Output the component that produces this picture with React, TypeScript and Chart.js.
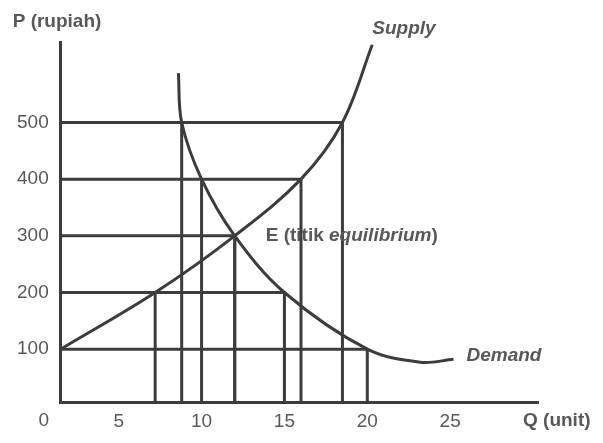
import React, { useEffect, useRef } from "react";
import { Chart, registerables } from "chart.js";

Chart.register(...registerables);

// ---- data ----
const priceLevels = [100, 200, 300, 400, 500];
const qSupplied = [1.5, 7.2, 12, 16, 18.5];
const qDemanded = [20, 15, 12, 10, 8.8];

const supplyQ = [1.5, 7.2, 12, 16, 18.5, 20.3];
const supplyP = [100, 200, 300, 400, 500, 637];

const demandQ = [8.6, 8.8, 10, 12, 15, 20, 23.2, 25.2];
const demandP = [587, 500, 400, 300, 200, 100, 77, 82];

const xTickValues = [5, 10, 15, 20, 25];
const yTickValues = [100, 200, 300, 400, 500];

const equilibriumQ = 12;
const equilibriumP = 300;

const X_MIN = 1.5;
const X_MAX = 30.3;
const Y_MIN = 6.4;
const Y_MAX = 642;

const INK = "#3c3c3c";
const TEXT = "#585858";
const FONT = "'Liberation Sans', Arial, sans-serif";

const pts = (xs: number[], ys: number[]) => xs.map((x, i) => ({ x, y: ys[i] }));

export default function App() {
  const ref = useRef<HTMLCanvasElement | null>(null);

  useEffect(() => {
    if (!ref.current) return;

    const guideSets: any[] = [];
    priceLevels.forEach((p, i) => {
      const right = Math.max(qSupplied[i], qDemanded[i]);
      guideSets.push({
        data: [{ x: X_MIN, y: p }, { x: right, y: p }],
      });
    });
    [...qSupplied, ...qDemanded].forEach((q, i) => {
      const p = priceLevels[i % priceLevels.length];
      if (q <= X_MIN) return;
      guideSets.push({
        data: [{ x: q, y: Y_MIN }, { x: q, y: p }],
      });
    });

    const lineBase = {
      showLine: true,
      pointRadius: 0,
      borderColor: INK,
      backgroundColor: INK,
      borderWidth: 3,
      fill: false,
    };

    const textPlugin = {
      id: "texts",
      afterDraw(chart: any) {
        const { ctx, chartArea, scales } = chart;
        const xs = scales.x;
        const ys = scales.y;
        ctx.save();
        ctx.fillStyle = TEXT;
        ctx.textBaseline = "middle";
        // axis titles
        ctx.font = `bold 19px ${FONT}`;
        ctx.textAlign = "left";
        ctx.fillText("P (rupiah)", chartArea.left - 48, chartArea.top - 20);
        ctx.fillText("Q (unit)", chartArea.right - 15, chartArea.bottom + 19);
        // origin label
        ctx.font = `19px ${FONT}`;
        ctx.textAlign = "center";
        ctx.fillText("0", chartArea.left - 17, chartArea.bottom + 19);
        // curve labels
        ctx.textAlign = "left";
        ctx.font = `italic bold 19px ${FONT}`;
        const sx = xs.getPixelForValue(supplyQ[supplyQ.length - 1]);
        const sy = ys.getPixelForValue(supplyP[supplyP.length - 1]);
        ctx.fillText("Supply", sx, sy - 16);
        const dx = xs.getPixelForValue(demandQ[demandQ.length - 1]);
        const dy = ys.getPixelForValue(demandP[demandP.length - 1]);
        ctx.fillText("Demand", dx + 13, dy - 4);
        // equilibrium label
        const ex = xs.getPixelForValue(equilibriumQ) + 31;
        const ey = ys.getPixelForValue(equilibriumP);
        ctx.font = `bold 19px ${FONT}`;
        const a = "E (titik ";
        ctx.fillText(a, ex, ey);
        let w = ctx.measureText(a).width;
        ctx.font = `italic bold 19px ${FONT}`;
        const b = "equilibrium";
        ctx.fillText(b, ex + w, ey);
        w += ctx.measureText(b).width;
        ctx.font = `bold 19px ${FONT}`;
        ctx.fillText(")", ex + w, ey);
        ctx.restore();
      },
    };

    const chart = new Chart(ref.current, {
      type: "scatter",
      data: {
        datasets: [
          ...guideSets.map((g) => ({ ...lineBase, ...g, tension: 0 })),
          {
            ...lineBase,
            label: "Supply",
            data: pts(supplyQ, supplyP),
            tension: 0.35,
          },
          {
            ...lineBase,
            label: "Demand",
            data: pts(demandQ, demandP),
            tension: 0.35,
          },
        ],
      },
      options: {
        animation: false,
        responsive: false,
        layout: { padding: { top: 42, left: 5, right: 65, bottom: 2 } },
        plugins: {
          legend: { display: false },
          tooltip: { enabled: false },
        },
        scales: {
          x: {
            type: "linear",
            min: X_MIN,
            max: X_MAX,
            afterBuildTicks: (s: any) => {
              s.ticks = xTickValues.map((v) => ({ value: v }));
            },
            grid: { display: false, drawTicks: false },
            border: { display: true, color: INK, width: 3 },
            ticks: {
              padding: 8,
              color: TEXT,
              font: { family: FONT, size: 19 },
              maxRotation: 0,
              autoSkip: false,
            },
          },
          y: {
            type: "linear",
            min: Y_MIN,
            max: Y_MAX,
            afterBuildTicks: (s: any) => {
              s.ticks = yTickValues.map((v) => ({ value: v }));
            },
            grid: { display: false, drawTicks: false },
            border: { display: true, color: INK, width: 3 },
            ticks: {
              padding: 12,
              color: TEXT,
              font: { family: FONT, size: 19 },
              autoSkip: false,
            },
          },
        },
      },
      plugins: [textPlugin],
    } as any);

    return () => chart.destroy();
  }, []);

  return (
    <div style={{ position: "absolute", left: 0, top: 0, width: 603, height: 443, background: "#fff" }}>
      <canvas ref={ref} width={603} height={443} style={{ display: "block" }} />
    </div>
  );
}
